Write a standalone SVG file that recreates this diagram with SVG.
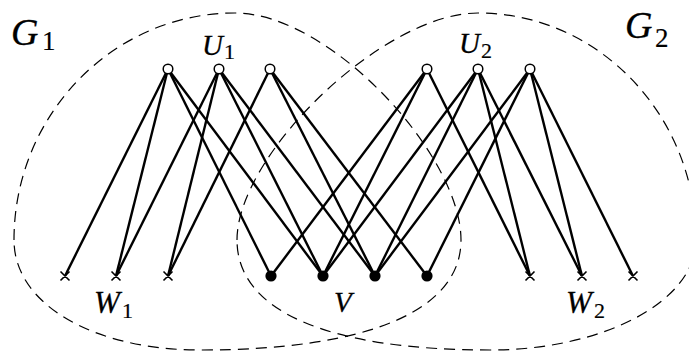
<svg xmlns="http://www.w3.org/2000/svg" width="689" height="352" viewBox="0 0 689 352">
<style>
.set{fill:none;stroke:#000;stroke-width:1.2;stroke-dasharray:11 7}
.e{stroke:#000;stroke-width:2.4;fill:none}
.u{fill:#fff;stroke:#000;stroke-width:1.5}
.v{fill:#000}
.w{stroke:#000;stroke-width:1.6}
.lab{font-family:"Liberation Serif",serif;font-style:italic;fill:#000;stroke:#000;stroke-width:0.3}
.sub{font-family:"Liberation Serif",serif;font-style:normal;fill:#000;stroke:#000;stroke-width:0.2}
</style>
<g id="G1">
<path class="set" d="M14,240 C14,115 113,13 235,13 C330,13 461,155 461,240 C461,310 370,350 200,350 C95,350 14,305 14,240 Z"/>
<text class="lab" x="11" y="45" font-size="38">G</text><text class="sub" x="42" y="50" font-size="27">1</text>
</g>
<g id="G2">
<path class="set" d="M237,240 C237,155 383,13 478,13 C598,13 696,115 696,240 C696,301 604,350 490,350 C325,350 237,310 237,240 Z"/>
<text class="lab" x="625" y="38" font-size="38">G</text><text class="sub" x="655" y="47" font-size="27">2</text>
</g>
<g id="connectors">
<line class="e" x1="168" y1="69" x2="65" y2="276"/>
<line class="e" x1="168" y1="69" x2="116" y2="276"/>
<line class="e" x1="168" y1="69" x2="271" y2="276"/>
<line class="e" x1="168" y1="69" x2="323" y2="276"/>
<line class="e" x1="219" y1="69" x2="116" y2="276"/>
<line class="e" x1="219" y1="69" x2="168" y2="276"/>
<line class="e" x1="219" y1="69" x2="323" y2="276"/>
<line class="e" x1="219" y1="69" x2="375" y2="276"/>
<line class="e" x1="270" y1="69" x2="168" y2="276"/>
<line class="e" x1="270" y1="69" x2="375" y2="276"/>
<line class="e" x1="270" y1="69" x2="427" y2="276"/>
<line class="e" x1="427" y1="69" x2="530" y2="276"/>
<line class="e" x1="427" y1="69" x2="271" y2="276"/>
<line class="e" x1="427" y1="69" x2="323" y2="276"/>
<line class="e" x1="478" y1="69" x2="530" y2="276"/>
<line class="e" x1="478" y1="69" x2="582" y2="276"/>
<line class="e" x1="478" y1="69" x2="323" y2="276"/>
<line class="e" x1="478" y1="69" x2="375" y2="276"/>
<line class="e" x1="530" y1="69" x2="582" y2="276"/>
<line class="e" x1="530" y1="69" x2="633" y2="276"/>
<line class="e" x1="530" y1="69" x2="375" y2="276"/>
<line class="e" x1="530" y1="69" x2="427" y2="276"/>
</g>
<g id="U1">
<circle class="u" cx="168" cy="69" r="4.8"/>
<circle class="u" cx="219" cy="69" r="4.8"/>
<circle class="u" cx="270" cy="69" r="4.8"/>
<text class="lab" x="202" y="55" font-size="29">U</text><text class="sub" x="224" y="59" font-size="22">1</text>
</g>
<g id="U2">
<circle class="u" cx="427" cy="69" r="4.8"/>
<circle class="u" cx="478" cy="69" r="4.8"/>
<circle class="u" cx="530" cy="69" r="4.8"/>
<text class="lab" x="459" y="53" font-size="29">U</text><text class="sub" x="481" y="58" font-size="22">2</text>
</g>
<g id="V">
<circle class="v" cx="271" cy="276" r="5.6"/>
<circle class="v" cx="323" cy="276" r="5.6"/>
<circle class="v" cx="375" cy="276" r="5.6"/>
<circle class="v" cx="427" cy="276" r="5.6"/>
<text class="lab" x="334" y="312" font-size="29">V</text>
</g>
<g id="W1">
<path class="w" d="M60.5,271.5 l9,9 m0,-9 l-9,9 M111.5,271.5 l9,9 m0,-9 l-9,9 M163.5,271.5 l9,9 m0,-9 l-9,9"/>
<text class="lab" x="94" y="313" font-size="31">W</text><text class="sub" x="122" y="318" font-size="22">1</text>
</g>
<g id="W2">
<path class="w" d="M525.5,271.5 l9,9 m0,-9 l-9,9 M577.5,271.5 l9,9 m0,-9 l-9,9 M628.5,271.5 l9,9 m0,-9 l-9,9"/>
<text class="lab" x="566" y="313" font-size="31">W</text><text class="sub" x="594" y="318" font-size="22">2</text>
</g>
</svg>
